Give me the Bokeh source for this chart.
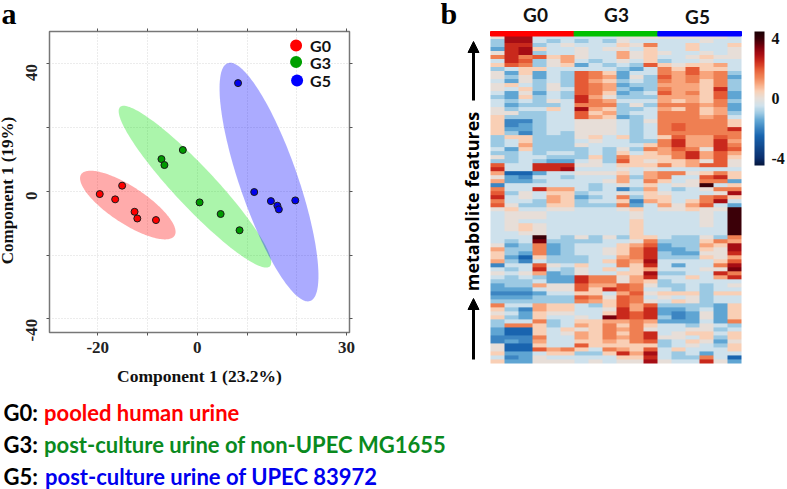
import numpy as np
from bokeh.core.properties import value
from bokeh.embed import file_html
from bokeh.layouts import column, row
from bokeh.models import (Arrow, ColorBar, FixedTicker, Label, LinearAxis, LinearColorMapper,
                          NormalHead, Range1d)
from bokeh.plotting import figure
from bokeh.resources import INLINE

groups = ["G0", "G3", "G5"]
colors = ["#ff0000", "#009a00", "#0000ee"]
ellipse_colors = ["#ff0000", "#00e100", "#0000ff"]

g0_x = [-19.6, -16.5, -15.1, -12.6, -12.05, -8.3]
g0_y = [-0.84, -2.5, 1.8, -6.4, -8.5, -9.0]
g3_x = [-7.2, -6.6, -2.9, 0.47, 4.7, 8.5]
g3_y = [10.15, 8.27, 13.0, -3.45, -7.1, -12.2]
g5_x = [8.2, 11.45, 14.8, 16.1, 16.4, 19.7]
g5_y = [34.0, -0.2, -3.05, -4.5, -5.65, -2.83]

# centre x, centre y, half extent x, half extent y, correlation
g0_ellipse = [-13.96, -4.29, 9.6, 10.78, -0.78]
g3_ellipse = [-0.47, 1.47, 15.33, 25.4, -0.934]
g5_ellipse = [14.42, 2.93, 9.94, 37.47, -0.785]

# heat values in half units, one list per feature, top to bottom, 18 samples
heat_rows = [
[0,6,6,-1,-1,-1,-1,-1,-1,0,0,0,0,0,0,0,0,-1],
[-2,6,6,-1,-2,-1,-2,-1,-2,0,-1,-1,-1,-1,-1,0,-1,-1],
[-2,5,5,-2,-1,0,-1,-1,-1,1,0,3,-1,-1,1,-1,-1,1],
[-3,5,6,1,-1,-1,0,-1,0,0,-1,1,-1,-1,1,-1,-1,0],
[0,5,6,-2,-1,-1,0,-1,-1,2,0,1,0,-1,-1,0,-1,0],
[3,5,3,4,1,2,0,-1,-1,2,0,1,-1,-1,0,1,0,0],
[-1,5,4,-2,0,2,-1,-2,-1,0,-1,1,-2,-1,-1,0,-1,-1],
[1,4,3,-2,0,1,-3,-1,-2,-1,-2,4,1,0,1,1,2,-1],
[-2,-1,1,1,-1,-1,-1,-1,-1,-2,-3,-1,3,1,4,1,1,-1],
[0,-3,1,-3,-1,-2,4,3,1,-3,-1,-1,3,2,4,2,3,-2],
[0,-2,0,-3,-1,-2,4,3,2,-3,0,-2,4,2,3,2,3,-3],
[-1,-3,0,-2,-1,-2,4,2,1,-2,-1,-2,3,2,3,1,3,-2],
[0,1,-1,-2,0,-2,4,3,2,-3,-2,-2,2,2,2,1,3,-2],
[0,-1,1,-2,0,-1,4,3,2,-2,-3,-2,3,2,2,1,5,-2],
[-1,-3,0,-3,-1,-2,4,3,1,-3,-2,-1,4,2,3,1,4,-3],
[-2,-3,1,-2,-1,-2,5,2,0,-2,-2,-2,2,2,2,1,4,-3],
[-1,-2,-1,-2,0,-1,5,3,2,-1,-1,-1,2,1,2,1,3,-2],
[-1,-3,-2,-2,-2,-1,3,3,3,-2,0,-2,3,3,3,2,3,-3],
[0,-2,-1,-1,1,-1,6,2,1,-2,-2,-1,2,1,3,1,2,-3],
[0,0,-2,-2,-1,-1,4,1,2,-2,-1,-1,3,3,3,1,2,-2],
[1,-2,-2,-2,-1,-1,4,2,1,-3,-2,-1,3,3,3,2,3,-1],
[1,-4,-4,-2,-1,-1,0,0,0,-1,-2,0,3,3,3,3,3,1],
[1,-4,-3,-2,-1,-1,0,0,0,-1,-2,-1,3,4,3,3,3,1],
[1,-3,-3,-2,-1,-1,0,0,0,-1,-2,-1,3,4,3,3,3,5],
[1,-2,-4,-2,-1,-2,0,0,0,-1,-2,-1,3,3,3,3,3,3],
[-2,1,1,-2,-2,-2,0,1,-1,1,-2,-1,1,4,2,2,4,3],
[-2,-1,1,-2,-2,-2,-1,0,-1,-1,-2,-2,3,5,2,2,5,2],
[-2,-1,2,-2,-2,-2,0,-1,-1,-1,-1,1,3,5,2,2,5,3],
[-1,-3,1,-2,-2,-2,-2,-1,-2,0,-2,3,2,4,3,0,5,4],
[-2,-2,-1,-2,-1,-1,-2,-1,-2,1,-1,1,2,3,5,2,4,2],
[0,-2,-1,-1,-2,-2,-2,1,-2,3,1,1,1,3,5,2,4,1],
[-2,-2,-1,-2,-3,-3,-1,0,-2,4,1,0,1,1,2,0,4,0],
[4,-1,-1,5,5,5,0,0,-1,1,1,1,3,1,2,4,4,0],
[5,-1,-1,5,5,6,-1,-1,-1,0,-1,0,-1,-1,-1,-1,-1,-1],
[2,-5,-5,-3,-1,-1,0,0,0,1,-1,2,3,3,0,1,3,1],
[0,-3,-4,-1,-1,-2,-1,-1,-1,2,-2,2,3,-1,-1,4,5,1],
[2,-3,-3,-2,-1,-1,-1,-1,0,2,-1,3,1,-1,0,3,3,-3],
[-4,-1,-1,-1,-1,-1,-1,-2,-1,0,-1,1,-1,0,0,8,-1,1],
[3,-1,-1,5,2,2,-1,-2,-1,-4,-2,2,-1,-2,-1,0,3,3],
[4,-2,0,-1,1,1,-2,-1,-1,0,-1,1,0,-1,-1,-1,0,6],
[5,-1,0,-1,2,1,-3,-2,-1,3,-2,1,1,-1,-1,3,4,1],
[3,-1,-1,-2,2,1,-2,-1,-1,1,-4,2,1,-1,1,3,6,-1],
[4,0,-2,-2,1,1,-2,-2,-2,3,-3,-1,2,0,2,4,-1,-3],
[0,1,-1,-1,0,0,-1,-1,-1,0,1,-1,0,0,1,0,0,8],
[-1,0,0,0,-1,-1,-1,-1,-1,-1,0,-1,-1,-1,-1,0,-1,8],
[-1,0,0,0,-1,-1,-1,-1,-1,-1,0,-1,-1,-1,-1,0,-1,8],
[-1,0,-1,-1,-1,-1,-1,-1,-1,-1,1,-1,-1,-1,-1,0,-1,8],
[-1,0,1,0,-1,-1,-1,-1,-1,-1,1,-1,-1,-1,-1,0,-1,8],
[-1,0,1,0,-1,-1,-1,-1,-1,-1,1,-1,-1,-1,-1,-1,-1,8],
[-1,-1,0,0,-1,-1,-1,-1,-1,-1,1,-1,-1,-1,-1,-1,-1,8],
[-1,-1,-1,8,-1,-2,0,-2,0,-2,1,1,-1,-2,-2,0,-2,3],
[-1,-2,-1,7,-2,-2,-2,-2,-1,-1,0,3,-2,-2,-2,1,3,2],
[0,-3,-2,3,-3,-2,-1,-1,-1,1,2,4,-3,-2,-2,2,1,6],
[2,-2,-2,3,-3,-2,-1,-1,0,1,3,5,-3,-3,-2,1,0,6],
[1,-2,-3,3,-3,-2,-1,-1,0,1,3,5,-2,-3,-3,0,0,5],
[1,-3,-5,1,-2,-2,-2,-1,-1,2,3,5,-2,-2,-2,1,0,2],
[2,-2,-4,-1,-2,-2,-2,-1,1,3,2,6,-1,-1,-1,-1,1,4],
[-4,-1,-1,4,0,-1,1,-1,-1,3,1,5,-1,-3,-1,-1,3,6],
[-1,-2,-1,5,-1,-2,0,-1,1,-1,1,2,-1,-1,-1,0,0,7],
[0,-1,0,2,-3,-2,0,-1,-1,1,1,6,-2,-2,-1,-1,5,3],
[-1,-2,-1,-2,-3,-3,5,3,3,0,2,5,-1,-1,1,-1,2,5],
[-2,-2,-2,-1,-3,-3,5,3,3,0,2,1,-2,-1,-1,-1,-1,-1],
[-3,-2,-2,2,0,0,4,2,2,4,3,0,-2,-2,-1,-2,-1,0],
[-3,-3,-3,-1,0,0,4,1,5,4,3,-1,-1,-2,-1,-2,-1,-1],
[-4,-4,-4,-3,-1,-1,1,1,-1,2,4,0,1,1,1,-2,1,1],
[-3,-3,-3,-2,-2,-2,4,3,0,4,3,-1,0,-1,0,-2,-1,-1],
[-2,-2,-2,-2,-2,-2,3,2,1,4,3,0,-1,1,0,-2,-1,-1],
[3,-1,-1,2,1,1,-1,-2,1,4,2,4,-2,-2,-2,-2,-3,1],
[1,-2,-4,2,1,1,-1,-1,0,5,2,5,-3,-3,-2,-1,-3,1],
[0,-1,-3,1,0,0,-1,-1,1,5,4,5,-3,-4,-3,0,-3,1],
[1,-2,-3,1,-1,-1,0,-1,7,5,4,5,-2,-4,-3,0,-3,1],
[-2,-1,-1,3,-2,-1,1,1,2,2,3,2,-3,-3,-3,-1,-3,3],
[-2,3,3,1,-2,-1,2,1,3,1,3,1,-1,-1,-2,0,-1,-2],
[-3,-5,-5,1,-1,1,0,1,3,2,3,0,-1,-1,0,0,-2,-1],
[-3,-5,-5,1,-1,0,2,1,3,1,3,5,-1,0,1,1,-1,1],
[-4,-4,-4,3,-1,-1,2,1,3,2,3,5,0,0,-1,1,-2,1],
[-4,-3,-4,2,-1,-1,1,1,2,1,3,4,-2,-1,1,0,-3,0],
[0,-5,-5,1,-1,-1,4,1,1,1,1,1,-2,-1,0,-1,-2,1],
[0,-5,-5,4,2,3,1,-1,3,2,1,4,-1,1,-1,-1,-1,1],
[1,-3,-3,-1,1,1,-2,-2,1,5,2,6,-1,-2,-1,-3,-1,-1],
[-1,-4,-3,0,-1,-1,-1,-1,-1,1,1,5,-1,-2,-2,3,-1,-5],
[1,-3,-3,0,0,0,-1,0,-1,0,0,6,0,-1,-1,5,0,-3],
]

colorbar_ticks = [-4, 0, 4]
colorbar_labels = {-4: "-4", 0: "0", 4: "4"}
x_ticks = [-20, 0, 30]
x_tick_labels = {-20: "-20", 0: "0", 30: "30"}
x_minor_ticks = [-10, 10, 20]
y_ticks = [-40, 0, 40]
y_tick_labels = {-40: "-40", 0: "0", 40: "40"}
y_minor_ticks = [-20, 20]

SERIF = "Liberation Serif"
SANS = "Lato"

# ---------- panel letter a, above the scatter
head = figure(width=440, height=27, x_range=(0, 440), y_range=(27, 0), toolbar_location=None,
              output_backend="svg", min_border=0, outline_line_color=None, frame_align=False)
head.axis.visible = False
head.grid.visible = False
head.text([1], [13], text=["a"], text_font=value(SERIF), text_font_style="bold",
          text_font_size="30px", text_color="#000000", text_baseline="middle")

# ---------- panel a
a = figure(width=450, height=363, x_range=(-29.7, 30.6), y_range=(-44.3, 50.2),
           toolbar_location=None, output_backend="svg", min_border_left=59, min_border_right=81,
           min_border_top=4, min_border_bottom=58, x_axis_label="Component 1 (23.2%)",
           y_axis_label="Component 1 (19%)\u00a0\u00a0\u00a0\u00a0", frame_align=False, margin=(0, 0, 0, -10))
a.extra_x_ranges = {"px": Range1d(49, 349.5)}
a.extra_y_ranges = {"px": Range1d(332, 31)}
a.outline_line_color = "#777777"
a.outline_line_width = 1.5

for ax, ticks, minor, labels in ((a.xaxis[0], x_ticks, x_minor_ticks, x_tick_labels),
                                 (a.yaxis[0], y_ticks, y_minor_ticks, y_tick_labels)):
    ax.ticker = FixedTicker(ticks=ticks, minor_ticks=minor)
    ax.major_label_overrides = labels
    ax.major_label_text_font = SERIF
    ax.major_label_text_font_style = "bold"
    ax.major_label_text_font_size = "17px"
    ax.major_label_text_color = "#222222"
    ax.axis_label_text_font = SERIF
    ax.axis_label_text_font_style = "bold"
    ax.axis_label_text_font_size = "17.5px"
    ax.axis_label_text_color = "#111111"
    ax.axis_line_color = None
    ax.major_tick_line_color = "#555555"
    ax.major_tick_in = 0
    ax.major_tick_out = 3
    ax.minor_tick_line_color = "#555555"
    ax.minor_tick_in = 0
    ax.minor_tick_out = 3
a.xaxis[0].major_label_standoff = 6
a.xaxis[0].axis_label_standoff = 10
a.yaxis[0].major_label_orientation = np.pi / 2
a.yaxis[0].major_label_standoff = 15
a.yaxis[0].axis_label_standoff = 1
a.yaxis[0].axis_label_text_font_size = "17px"

right = LinearAxis(ticker=FixedTicker(ticks=[], minor_ticks=y_ticks + y_minor_ticks),
                   axis_line_color=None, major_tick_line_color=None, minor_tick_in=0, minor_tick_out=3,
                   minor_tick_line_color="#555555")
top = LinearAxis(ticker=FixedTicker(ticks=[], minor_ticks=x_ticks + x_minor_ticks),
                 axis_line_color=None, major_tick_line_color=None, minor_tick_in=0, minor_tick_out=3,
                 minor_tick_line_color="#555555")
a.add_layout(right, "right")
a.add_layout(top, "above")

a.xgrid.ticker = FixedTicker(ticks=[-20, -10, 0, 10, 20])
a.ygrid.ticker = FixedTicker(ticks=y_ticks + y_minor_ticks)
for g in (a.xgrid[0], a.ygrid[0]):
    g.grid_line_color = "#d9d9d9"
    g.grid_line_dash = "1 2"
    g.grid_line_width = 1

t = np.linspace(0, 2 * np.pi, 180)
for ell, col in zip((g0_ellipse, g3_ellipse, g5_ellipse), ellipse_colors):
    cx, cy, hx, hy, rho = ell
    a.patch(cx + hx * np.cos(t), cy + hy * np.cos(t - np.arccos(rho)),
            fill_color=col, fill_alpha=0.33, line_color=None)

for xs, ys, col in zip((g0_x, g3_x, g5_x), (g0_y, g3_y, g5_y), colors):
    a.scatter(xs, ys, size=7, fill_color=col, line_color="#1a1a1a", line_width=1)

for name, col, ly, lx in zip(groups, ["#ff0000", "#00a000", "#0000ff"], [45, 61.5, 80], [296, 296, 297]):
    a.scatter([lx], [ly], size=12, fill_color=col, line_color=None,
              x_range_name="px", y_range_name="px")
    a.add_layout(Label(x=310, y=ly, text=name, x_range_name="px", y_range_name="px",
                       text_font=SANS, text_font_style="bold", text_font_size="16px",
                       text_baseline="middle", text_color="#111111"))

# ---------- panel b: the frame fills the figure, cells in column and row units
n_rows = len(heat_rows)
heat = np.array(heat_rows, dtype=float)[::-1] / 2
n_cols = heat.shape[1]
col_px = 251 / n_cols
row_px = 327.5 / n_rows

anchor_v = [-4.5, -4, -2.5, -1.5, -1, -0.5, 0, 0.5, 1, 1.5, 2, 2.5, 3, 3.5, 4, 4.5]
anchor_c = ["#06183f", "#0b2f6e", "#1965b0", "#5fa5d3", "#9cc9e3", "#cfe2ec", "#e6dfd9", "#f9d0b6",
            "#f8a57d", "#ef7f52", "#e55a35", "#cb2a1c", "#a80d14", "#7a000c", "#3b0008", "#1c0004"]
anchor_rgb = np.array([[int(c[i:i + 2], 16) for i in (1, 3, 5)] for c in anchor_c], dtype=float)
grid_v = np.linspace(-4.5, 4.5, 256)
palette = ["#%02x%02x%02x" % tuple(int(round(np.interp(v, anchor_v, anchor_rgb[:, k]))) for k in range(3))
           for v in grid_v]
mapper = LinearColorMapper(palette=palette, low=-4.5, high=4.5)

b = figure(width=347, height=390, x_range=(-50 / col_px, 297 / col_px),
           y_range=(-27 / row_px, 363 / row_px), toolbar_location=None, output_backend="svg",
           min_border=0, outline_line_color=None, frame_align=False)
b.extra_x_ranges = {"px": Range1d(440, 787)}
b.extra_y_ranges = {"px": Range1d(390, 0)}
b.axis.visible = False
b.grid.visible = False
b.image(image=[heat], x=0, y=0, dw=n_cols, dh=n_rows, color_mapper=mapper)
b.quad(left=[0, 6, 12], right=[6, 12, 18], bottom=n_rows, top=n_rows + 4.5 / row_px,
       color=["#ff0000", "#00c000", "#0000ff"])

for name, lx, ly in zip(groups, [535, 616, 697], [14, 14, 16]):
    b.add_layout(Label(x=lx, y=ly, text=name, x_range_name="px", y_range_name="px", text_font=SANS,
                       text_font_style="bold", text_font_size="19px", text_align="center",
                       text_baseline="middle", text_color="#111111"))
b.add_layout(Label(x=440, y=13, text="b", x_range_name="px", y_range_name="px", text_font=SERIF,
                   text_font_style="bold", text_font_size="30px", text_baseline="middle",
                   text_color="#000000"))
b.add_layout(Label(x=471, y=201, text="metabolite features", angle=np.pi / 2, x_range_name="px",
                   y_range_name="px", text_font="Open Sans", text_font_style="bold",
                   text_font_size="18px", text_align="center", text_baseline="middle",
                   text_color="#000000"))
for y0, y1 in ((100, 41), (359, 298)):
    b.add_layout(Arrow(end=NormalHead(size=11, fill_color="#000000", line_color="#000000"),
                       x_start=473, y_start=y0, x_end=473, y_end=y1, line_width=3,
                       line_color="#000000", x_range_name="px", y_range_name="px"))

cb = ColorBar(color_mapper=mapper, ticker=FixedTicker(ticks=colorbar_ticks), width=10, height=134,
              location=(314, 225), major_tick_line_color=None, minor_tick_line_color=None,
              bar_line_color=None, border_line_color=None, background_fill_color=None,
              padding=0, margin=0, label_standoff=7, major_label_text_font=SERIF,
              major_label_text_font_style="bold", major_label_text_font_size="16px",
              major_label_text_color="#111111", major_label_overrides=colorbar_labels)
b.add_layout(cb)

# ---------- description lines
line_heads = ["G0:", "G3:", "G5:"]
line_texts = ["pooled human urine", "post-culture urine of non-UPEC MG1655", "post-culture urine of UPEC 83972"]
line_colors = ["#ff0000", "#0a8a1e", "#0000ee"]
c = figure(width=787, height=99, x_range=(0, 787), y_range=(489, 390), toolbar_location=None,
           output_backend="svg", min_border=0, outline_line_color=None, frame_align=False)
c.axis.visible = False
c.grid.visible = False
for lead, body, col, mid, bx in zip(line_heads, line_texts, line_colors, [412, 444, 475.5], [43.5, 43.5, 44.5]):
    c.text([3], [mid], text=[lead], text_font=value(SANS), text_font_style="bold",
           text_font_size="22px", text_color="#000000", text_baseline="middle")
    c.text([bx], [mid], text=[body], text_font=value(SANS), text_font_style="bold",
           text_font_size="22px", text_color=col, text_baseline="middle")

page = column(row(column(head, a, spacing=0), b, spacing=0), c, spacing=0)
open("out.html", "w").write(file_html(page, INLINE))
